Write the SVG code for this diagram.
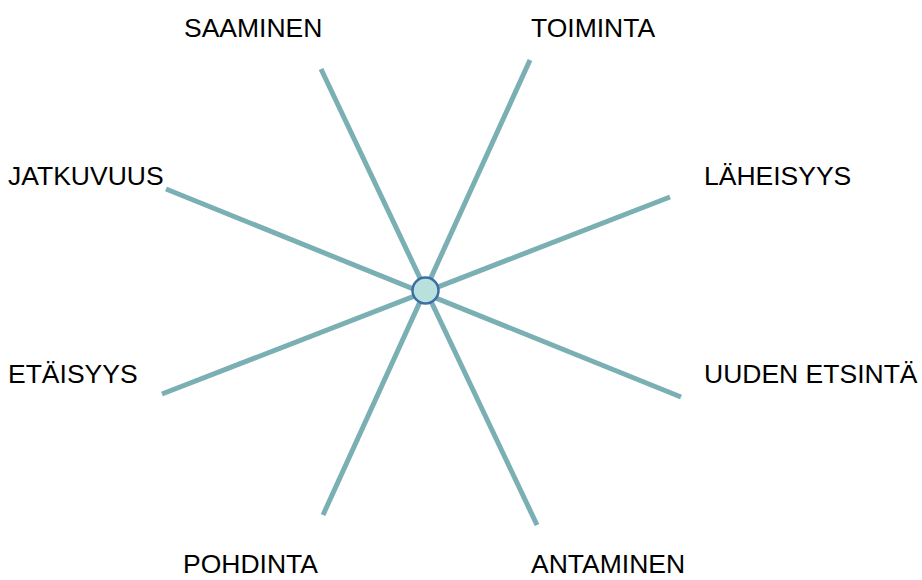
<svg xmlns="http://www.w3.org/2000/svg" width="922" height="580" viewBox="0 0 922 580">
<style>
.ln{stroke:#7aafb4;stroke-width:5;stroke-linecap:butt;fill:none}
.lb{font-family:"Liberation Sans",Arial,sans-serif;font-size:26.5px;fill:#000}
</style>
<rect width="922" height="580" fill="#fff"/>
<g id="connectors">
<line class="ln" x1="321" y1="69" x2="537" y2="525"/>
<line class="ln" x1="530" y1="60" x2="323" y2="515"/>
<line class="ln" x1="166" y1="189" x2="681" y2="397"/>
<line class="ln" x1="670" y1="197" x2="162" y2="394"/>
</g>
<g id="center"><circle cx="425.5" cy="290.5" r="13" fill="#b9e0dc" stroke="#3c6ea5" stroke-width="2.5"/></g>
<g id="saaminen"><text class="lb" x="184" y="37">SAAMINEN</text></g>
<g id="toiminta"><text class="lb" x="531" y="37">TOIMINTA</text></g>
<g id="jatkuvuus"><text class="lb" x="8" y="185">JATKUVUUS</text></g>
<g id="laheisyys"><text class="lb" x="704" y="185">LÄHEISYYS</text></g>
<g id="etaisyys"><text class="lb" x="8" y="383">ETÄISYYS</text></g>
<g id="uuden"><text class="lb" x="704" y="383">UUDEN ETSINTÄ</text></g>
<g id="pohdinta"><text class="lb" x="183" y="573">POHDINTA</text></g>
<g id="antaminen"><text class="lb" x="531" y="573">ANTAMINEN</text></g>
</svg>
